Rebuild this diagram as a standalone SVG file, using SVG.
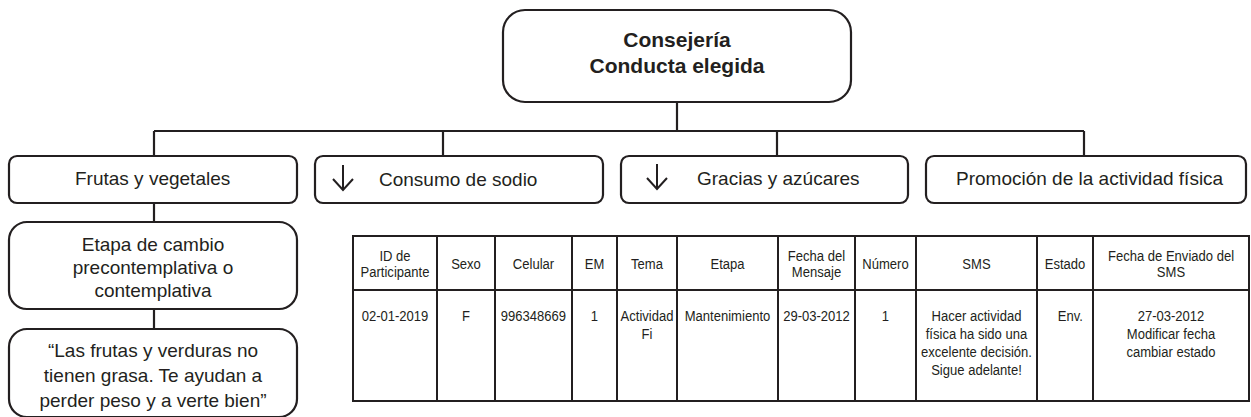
<svg xmlns="http://www.w3.org/2000/svg" width="1251" height="417" viewBox="0 0 1251 417">
<style>
.box{fill:#fff;stroke:#231f20;stroke-width:2.2}
.ln{stroke:#231f20;stroke-width:2.2;fill:none}
.t{font-family:"Liberation Sans",Arial,sans-serif;font-size:19px;fill:#231f20}
.tb{font-family:"Liberation Sans",Arial,sans-serif;font-size:21px;font-weight:bold;fill:#231f20;text-anchor:middle}
.c{text-anchor:middle}
.tt{font-family:"Liberation Sans",Arial,sans-serif;font-size:15px;fill:#231f20;text-anchor:middle}
.grid{stroke:#231f20;stroke-width:2;fill:none}
</style>
<defs>
<g id="down"><path d="M0,0 V25 M-10,14 L0,25 L10,14" fill="none" stroke="#231f20" stroke-width="2"/></g>
</defs>
<g id="connectors">
<path class="ln" d="M677,102 V131 M154,131 H1084 M154,131 V156 M443,131 V156 M777,131 V156 M1084,131 V156 M154,203 V222 M154,309 V329"/>
</g>
<g id="root">
<rect class="box" x="503" y="10" width="348" height="92" rx="22"/>
<text class="tb" x="677" y="47">Consejería</text>
<text class="tb" x="677" y="73">Conducta elegida</text>
</g>
<g id="frutas">
<rect class="box" x="9" y="156" width="288" height="47" rx="8"/>
<text class="t" x="75" y="185">Frutas y vegetales</text>
</g>
<g id="sodio">
<rect class="box" x="315" y="156" width="288" height="47" rx="8"/>
<use href="#down" x="343" y="165"/>
<text class="t" x="379" y="186">Consumo de sodio</text>
</g>
<g id="azucares">
<rect class="box" x="621" y="156" width="287" height="47" rx="8"/>
<use href="#down" x="657" y="164"/>
<text class="t" x="697" y="185">Gracias y azúcares</text>
</g>
<g id="actividad">
<rect class="box" x="926" y="156" width="320" height="47" rx="8"/>
<text class="t" x="956" y="185">Promoción de la actividad física</text>
</g>
<g id="etapa">
<rect class="box" x="9" y="222" width="288" height="87" rx="18"/>
<text class="t c" x="153" y="251">Etapa de cambio</text>
<text class="t c" x="153" y="274">precontemplativa o</text>
<text class="t c" x="153" y="297">contemplativa</text>
</g>
<g id="mensaje">
<rect class="box" x="9" y="329" width="288" height="88" rx="18"/>
<text class="t c" x="153" y="357">“Las frutas y verduras no</text>
<text class="t c" x="153" y="382">tienen grasa. Te ayudan a</text>
<text class="t c" x="153" y="407">perder peso y a verte bien”</text>
</g>
<g id="tabla">
<rect class="grid" x="353" y="236" width="896" height="165"/>
<path class="grid" d="M353,290 H1249 M437,236 V401 M495,236 V401 M572,236 V401 M617,236 V401 M677,236 V401 M778,236 V401 M855,236 V401 M916,236 V401 M1037,236 V401 M1093,236 V401"/>
<g transform="scale(0.87,1)">
<text class="tt" x="454.02" y="261">ID de</text>
<text class="tt" x="454.02" y="277">Participante</text>
<text class="tt" x="535.63" y="269">Sexo</text>
<text class="tt" x="613.22" y="269">Celular</text>
<text class="tt" x="683.33" y="269">EM</text>
<text class="tt" x="743.68" y="269">Tema</text>
<text class="tt" x="836.21" y="269">Etapa</text>
<text class="tt" x="938.51" y="261">Fecha del</text>
<text class="tt" x="938.51" y="277">Mensaje</text>
<text class="tt" x="1017.82" y="269">Número</text>
<text class="tt" x="1122.41" y="269">SMS</text>
<text class="tt" x="1224.14" y="269">Estado</text>
<text class="tt" x="1345.98" y="261">Fecha de Enviado del</text>
<text class="tt" x="1345.98" y="277">SMS</text>
<text class="tt" x="454.02" y="321">02-01-2019</text>
<text class="tt" x="535.63" y="321">F</text>
<text class="tt" x="613.22" y="321">996348669</text>
<text class="tt" x="683.33" y="321">1</text>
<text class="tt" x="743.68" y="321">Actividad</text>
<text class="tt" x="743.68" y="339">Fi</text>
<text class="tt" x="836.21" y="321">Mantenimiento</text>
<text class="tt" x="938.51" y="321">29-03-2012</text>
<text class="tt" x="1017.82" y="321">1</text>
<text class="tt" x="1122.41" y="321">Hacer actividad</text>
<text class="tt" x="1122.41" y="339">física ha sido una</text>
<text class="tt" x="1122.41" y="357">excelente decisión.</text>
<text class="tt" x="1122.41" y="375">Sigue adelante!</text>
<text class="tt" x="1244.83" y="321" style="text-anchor:end">Env.</text>
<text class="tt" x="1345.98" y="321">27-03-2012</text>
<text class="tt" x="1345.98" y="339">Modificar fecha</text>
<text class="tt" x="1345.98" y="357">cambiar estado</text>
</g>
</g>
</svg>
